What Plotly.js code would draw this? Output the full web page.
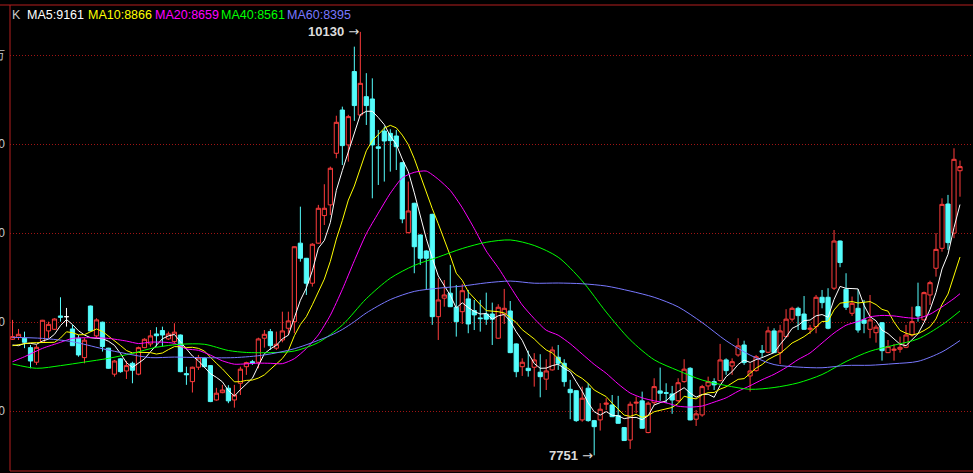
<!DOCTYPE html>
<html><head><meta charset="utf-8">
<script src="https://cdn.plot.ly/plotly-3.0.1.min.js"></script>
<style>html,body{margin:0;padding:0;background:#000;overflow:hidden}#chart{width:973px;height:473px}</style>
</head><body><div id="chart"></div>
<script>
// ---- candle data (daily K line), index = candle number ----
const openP = [
8403,8414,8409,8356,8274,8386,8450,8459,8534,8530,
8461,8409,8300,8590,8422,8499,8353,8207,8293,8225,
8268,8207,8356,8377,8433,8452,8405,8390,8427,8210,
8165,8246,8296,8255,8062,8103,8128,8062,8156,8249,
8277,8274,8409,8446,8353,8399,8465,8502,8943,8858,
8718,8943,9098,9158,9448,9691,9495,9907,9663,9766,
9753,9484,9573,9560,9545,9395,9002,9167,8989,8899,
9105,8530,8634,8662,8583,8558,8630,8564,8523,8545,
8545,8409,8545,8562,8377,8249,8240,8246,8218,8179,
8231,8302,8268,8122,8114,7950,8128,7946,7950,8038,
8034,7974,7907,7837,8044,8057,7879,8047,8113,8103,
8096,8058,8165,8240,7954,7978,8141,8165,8171,8287,
8253,8315,8371,8197,8227,8339,8330,8450,8328,8418,
8516,8577,8545,8459,8474,8639,8639,8690,8955,8684,
8549,8577,8512,8459,8440,8496,8328,8341,8347,8358,
8427,8586,8512,8652,8802,8914,9163,8999,9350];
const highP = [
8512,8461,8446,8371,8371,8512,8502,8521,8639,8579,
8484,8427,8409,8592,8521,8502,8355,8287,8298,8281,
8277,8362,8409,8455,8471,8474,8446,8493,8430,8249,
8249,8315,8300,8258,8130,8147,8145,8147,8249,8277,
8287,8412,8455,8461,8446,8558,8558,8925,9148,8860,
8943,9158,9274,9373,9659,9710,9664,10047,10130,9898,
9869,9579,9598,9583,9579,9400,9289,9170,8992,8903,
9108,8746,8736,8821,8708,8714,8680,8624,8624,8665,
8609,8600,8686,8618,8380,8296,8339,8325,8319,8291,
8362,8371,8291,8175,8116,8137,8156,7950,8044,8072,
8090,8085,7910,8053,8081,8109,8053,8184,8244,8156,
8141,8184,8291,8246,8006,8147,8193,8184,8377,8296,
8296,8409,8395,8268,8315,8371,8474,8465,8484,8572,
8586,8586,8646,8484,8652,8680,8690,9017,8958,8774,
8643,8684,8624,8652,8484,8500,8399,8377,8418,8484,
8586,8721,8671,8732,8999,9195,9214,9476,9407];
const lowP = [
8399,8399,8353,8240,8259,8382,8409,8455,8502,8474,
8367,8305,8268,8448,8409,8334,8238,8193,8215,8180,
8156,8201,8353,8362,8362,8362,8399,8381,8218,8147,
8104,8231,8245,8050,8058,8100,8044,8019,8090,8203,
8259,8240,8356,8343,8343,8386,8427,8437,8839,8652,
8699,8940,9045,9101,9420,9382,9401,9630,9659,9607,
9195,9270,9289,9345,9354,9055,8998,8774,8821,8680,
8484,8399,8586,8584,8418,8489,8437,8455,8446,8484,
8371,8406,8489,8325,8190,8197,8193,8137,8077,8118,
8227,8231,8137,7954,7939,7940,7940,7751,7890,8006,
7966,7930,7832,7787,7987,7901,7875,8034,8057,8044,
7984,8049,8159,7948,7916,7968,8118,8118,8165,8203,
8203,8305,8259,8109,8221,8302,8325,8325,8264,8414,
8502,8455,8455,8433,8437,8577,8459,8680,8808,8568,
8534,8440,8437,8409,8384,8283,8325,8283,8328,8353,
8418,8502,8508,8596,8755,8895,8905,8971,9204];
const closeP = [
8418,8431,8386,8281,8358,8510,8487,8517,8527,8530,
8367,8315,8398,8450,8512,8362,8240,8281,8221,8255,
8229,8356,8403,8422,8423,8427,8433,8443,8221,8204,
8246,8298,8249,8053,8100,8118,8057,8090,8235,8272,
8268,8405,8431,8367,8375,8450,8506,8923,8858,8718,
8937,9139,9139,9364,9622,9491,9654,9716,9841,9716,
9495,9476,9517,9519,9485,9079,9124,8923,8858,8858,
8530,8624,8652,8586,8502,8676,8489,8540,8519,8516,
8516,8583,8577,8328,8221,8274,8227,8287,8193,8225,
8343,8268,8165,8103,7946,8072,7946,7912,8010,8044,
7968,7931,7834,8038,8049,7903,8044,8137,8100,8100,
8062,8159,8235,7950,7984,8137,8165,8147,8287,8227,
8277,8366,8272,8225,8305,8330,8450,8328,8450,8516,
8577,8536,8459,8465,8639,8609,8465,8955,8834,8583,
8605,8455,8493,8512,8471,8339,8362,8347,8358,8427,
8502,8534,8665,8721,8908,9161,8946,9414,9373];

// ---- moving-average lines ----
const ma5 = [
8371,8367,8380,8380,8375,8393,8404,8431,8480,8514,
8486,8451,8427,8412,8408,8407,8392,8369,8323,8272,
8245,8268,8293,8333,8367,8406,8422,8430,8389,8346,
8309,8282,8244,8210,8189,8164,8115,8084,8120,8154,
8184,8254,8322,8349,8369,8406,8426,8524,8622,8691,
8788,8915,8958,9059,9240,9351,9454,9569,9665,9684,
9684,9649,9609,9545,9498,9415,9345,9226,9094,8968,
8859,8759,8704,8650,8579,8608,8581,8559,8545,8548,
8516,8535,8542,8504,8445,8397,8325,8267,8240,8241,
8255,8263,8239,8221,8165,8111,8046,7996,7977,7997,
7976,7973,7957,7963,7964,7951,7974,8034,8047,8057,
8089,8112,8131,8101,8078,8093,8094,8077,8144,8193,
8221,8261,8286,8273,8289,8300,8316,8328,8373,8415,
8464,8481,8508,8511,8535,8542,8527,8627,8700,8689,
8688,8686,8594,8530,8507,8454,8435,8406,8375,8367,
8399,8434,8497,8570,8666,8798,8880,9030,9160];
const ma10 = [
8367,8373,8380,8383,8384,8384,8384,8386,8410,8445,
8440,8428,8429,8446,8461,8447,8422,8398,8368,8340,
8326,8330,8331,8328,8320,8326,8345,8362,8361,8357,
8358,8352,8337,8300,8268,8237,8199,8164,8165,8172,
8174,8185,8203,8235,8262,8295,8340,8423,8486,8530,
8597,8671,8741,8841,8966,9070,9185,9264,9362,9462,
9518,9552,9589,9605,9591,9550,9497,9418,9320,9233,
9137,9052,8965,8872,8774,8734,8670,8632,8598,8564,
8562,8558,8551,8525,8497,8457,8430,8405,8372,8343,
8326,8294,8253,8231,8203,8183,8155,8118,8099,8081,
8044,8010,7977,7970,7981,7964,7974,7996,8005,8011,
8020,8043,8083,8074,8068,8091,8103,8104,8123,8136,
8157,8178,8182,8209,8241,8261,8289,8307,8323,8352,
8382,8399,8418,8442,8475,8503,8504,8568,8606,8612,
8615,8607,8611,8615,8598,8571,8561,8500,8453,8437,
8427,8435,8452,8473,8517,8599,8657,8764,8865];
const ma20K = [1,3,6,9,11,14,17,20,22,24,26,28,30,32,34,36,38,40,42,44,46,48,50,52,54,56,58,60,
62,64,66,68,70,72,74,76,78,80,82,84,86,88,90,92,94,96,98,100,102,104,106,108,110,112,114,116,118,120,
122,124,126,128,130,132,134,136,138,140,142,144,146,148,150,152,154,156,158,159];
const ma20V = [8277,8305,8352,8386,8408,8412,8408,8393,8379,8387,8387,8380,8349,8341,8314,8282,8263,8265,8269,8268,8266,8294,8351,8428,8538,8683,8844,8996,
9112,9223,9310,9341,9348,9302,9239,9142,9025,8899,8805,8699,8596,8519,8454,8426,8378,8320,8262,8212,8152,8101,8074,8057,8046,8027,8022,8028,8050,8074,
8111,8142,8176,8206,8244,8289,8326,8382,8438,8482,8503,8529,8537,8534,8525,8521,8544,8585,8632,8659];
const ma40K = [1,5,9,13,17,21,25,29,33,37,40,44,48,52,56,60,64,68,72,76,80,84,88,92,96,100,104,108,112,116,120,124,128,132,136,140,144,148,152,156,159];
const ma40V = [8264,8240,8255,8275,8296,8324,8358,8375,8375,8340,8329,8328,8337,8385,8483,8631,8746,8818,8865,8913,8948,8961,8930,8864,8731,8556,8400,8288,8227,8174,8143,8122,8132,8158,8205,8278,8336,8370,8405,8484,8562];
const ma60K = [1,6,11,16,20,24,28,32,38,43,48,54,56,58,60,64,68,72,76,80,84,88,92,96,100,104,108,112,116,120,124,128,132,136,140,144,148,152,156,159];
const ma60V = [8414,8408,8389,8350,8322,8300,8303,8300,8300,8315,8350,8424,8458,8502,8551,8626,8672,8690,8702,8720,8730,8718,8719,8715,8702,8674,8639,8585,8497,8395,8314,8261,8247,8243,8256,8257,8266,8279,8332,8396];

const yTicks = [8000, 8500, 9000, 9500, 10000];
const yTickText = ['8000', '8500', '9000', '9500', '1万'];
const maLabels = ['MA5:9161', 'MA10:8866', 'MA20:8659', 'MA40:8561', 'MA60:8395'];
const maColors = ['#ffffff', '#ffff00', '#ff00ff', '#00ff00', '#7878ff'];
const highLabel = {k: 59, v: 10130};
const lowLabel = {k: 98, v: 7751};

// ---- build traces ----
const RED = '#ff3c3c', CYAN = '#54fcfc';
const idx = openP.map((_, i) => i + 1);
const main = {x: [], open: [], high: [], low: [], close: []};
const doji = {x: [], open: [], high: [], low: [], close: []};
idx.forEach((k, i) => {
  const t = (openP[i] === closeP[i]) ? doji : main;
  t.x.push(k); t.open.push(openP[i]); t.high.push(highP[i]); t.low.push(lowP[i]); t.close.push(closeP[i]);
});
const traces = [
  Object.assign({type: 'candlestick', whiskerwidth: 0, hoverinfo: 'skip',
    increasing: {line: {color: RED, width: 1}, fillcolor: '#000000'},
    decreasing: {line: {color: CYAN, width: 1}, fillcolor: CYAN}}, main),
  Object.assign({type: 'candlestick', whiskerwidth: 0, hoverinfo: 'skip',
    increasing: {line: {color: '#ffffff', width: 1}, fillcolor: '#ffffff'},
    decreasing: {line: {color: '#ffffff', width: 1}, fillcolor: '#ffffff'}}, doji),
  {type: 'scatter', mode: 'lines', x: idx, y: ma5, line: {color: maColors[0], width: 1}, hoverinfo: 'skip'},
  {type: 'scatter', mode: 'lines', x: idx, y: ma10, line: {color: maColors[1], width: 1}, hoverinfo: 'skip'},
  {type: 'scatter', mode: 'lines', x: ma20K, y: ma20V, line: {color: maColors[2], width: 1, shape: 'spline', smoothing: 0.6}, hoverinfo: 'skip'},
  {type: 'scatter', mode: 'lines', x: ma40K, y: ma40V, line: {color: maColors[3], width: 1, shape: 'spline', smoothing: 0.8}, hoverinfo: 'skip'},
  {type: 'scatter', mode: 'lines', x: ma60K, y: ma60V, line: {color: maColors[4], width: 1, shape: 'spline', smoothing: 0.8}, hoverinfo: 'skip'}
];

// ---- annotations ----
const legendX = [0, 15, 76, 143, 209, 275];
const annotations = [];
const fontFam = 'Liberation Sans, Arial, sans-serif';
annotations.push({xref: 'paper', yref: 'paper', x: 0, y: 1, xanchor: 'left', yanchor: 'middle',
  xshift: legendX[0], yshift: -10, text: 'K', showarrow: false, font: {family: fontFam, size: 12.5, color: '#c8c8c8'}});
maLabels.forEach((t, i) => annotations.push({xref: 'paper', yref: 'paper', x: 0, y: 1, xanchor: 'left', yanchor: 'middle',
  xshift: legendX[i + 1], yshift: -10, text: t, showarrow: false, font: {family: fontFam, size: 12.5, color: maColors[i]}}));
[highLabel, lowLabel].forEach(l => annotations.push({x: l.k, y: l.v, xref: 'x', yref: 'y', xanchor: 'right', yanchor: 'middle',
  xshift: 1, text: '<b>' + l.v + '</b><span style="font-family:DejaVu Sans"> →</span>', showarrow: false,
  font: {family: fontFam, size: 13, color: '#dcdcdc'}}));

const FRAME = '#b41e1e';
const layout = {
  width: 973, height: 473, paper_bgcolor: '#000', plot_bgcolor: '#000',
  margin: {l: 10, r: 0, t: 5, b: 2}, showlegend: false,
  boxgap: 0.3, boxgroupgap: 0,
  xaxis: {range: [0.58, 161.17], showgrid: false, zeroline: false, showticklabels: false,
          rangeslider: {visible: false}, fixedrange: true, showline: false, ticks: ''},
  yaxis: {range: [7663, 10281], tickvals: yTicks, ticktext: yTickText, showgrid: true,
          gridcolor: '#a01414', griddash: '1px,2px', gridwidth: 1, zeroline: false, ticks: '',
          ticklabelstandoff: 4,
          tickfont: {family: fontFam, size: 12, color: '#c8c8c8'}, fixedrange: true, showline: false},
  shapes: [
    {type: 'line', xref: 'paper', yref: 'paper', x0: 0, x1: 0, y0: 0, y1: 1, line: {color: FRAME, width: 1}},
    {type: 'line', xref: 'paper', yref: 'paper', x0: -0.02, x1: 1, y0: 1, y1: 1, line: {color: FRAME, width: 1}},
    {type: 'line', xref: 'paper', yref: 'paper', x0: 0, x1: 1, y0: 0, y1: 0, line: {color: FRAME, width: 1}}
  ],
  annotations: annotations
};
Plotly.newPlot('chart', traces, layout, {staticPlot: true, displayModeBar: false});
</script>
</body></html>
